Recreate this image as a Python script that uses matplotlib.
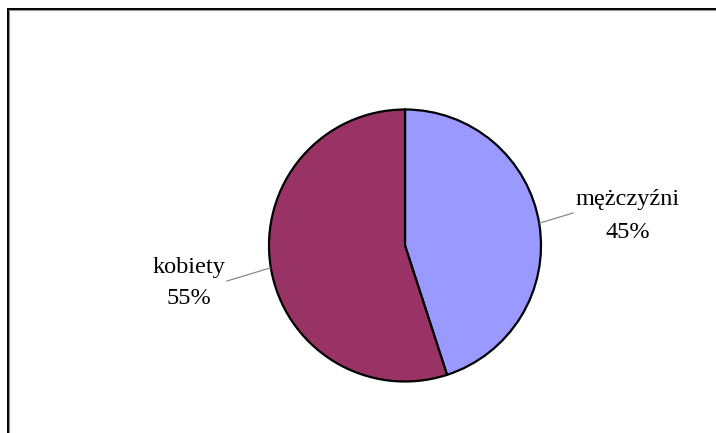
import matplotlib
matplotlib.use("Agg")
import matplotlib.pyplot as plt
from matplotlib.lines import Line2D

labels = ["mężczyźni", "kobiety"]
values = [45, 55]
colors = ["#9999FF", "#993366"]

W, H = 716, 433
fig = plt.figure(figsize=(W / 100, H / 100), dpi=100)
ax = fig.add_axes([0, 0, 1, 1])

cx, cy, r = 405, 245.5, 136
wedges, _ = ax.pie(values, colors=colors, startangle=-90, counterclock=True,
                   center=(cx, cy), radius=r, frame=True,
                   wedgeprops=dict(edgecolor="black", linewidth=1.6))
ax.set_xlim(0, W)
ax.set_ylim(H, 0)
ax.set_aspect("auto")
ax.axis("off")

# frame (extends past the right/bottom edges)
ax.add_line(Line2D([9.3, 9.3], [10, H + 5], color="#999999", lw=0.9))
ax.add_line(Line2D([9.5, W + 5], [10.3, 10.3], color="#999999", lw=0.9))
ax.add_line(Line2D([8, 8], [8.5, H + 5], color="black", lw=1.4))
ax.add_line(Line2D([7.5, W + 5], [9, 9], color="black", lw=1.4))

font = dict(family="Liberation Serif", fontsize=17.5, color="black")
# leader lines
ax.add_line(Line2D([540, 573], [223, 213], color="#888888", lw=0.9))
ax.add_line(Line2D([227, 270], [281, 268], color="#888888", lw=0.9))

ax.text(628, 200, labels[0], ha="center", va="center", **font)
ax.text(628, 232, f"{values[0]}%", ha="center", va="center", **font)
ax.text(189, 268, labels[1], ha="center", va="center", **font)
ax.text(189, 298, f"{values[1]}%", ha="center", va="center", **font)

fig.savefig("out.png", dpi=100)
